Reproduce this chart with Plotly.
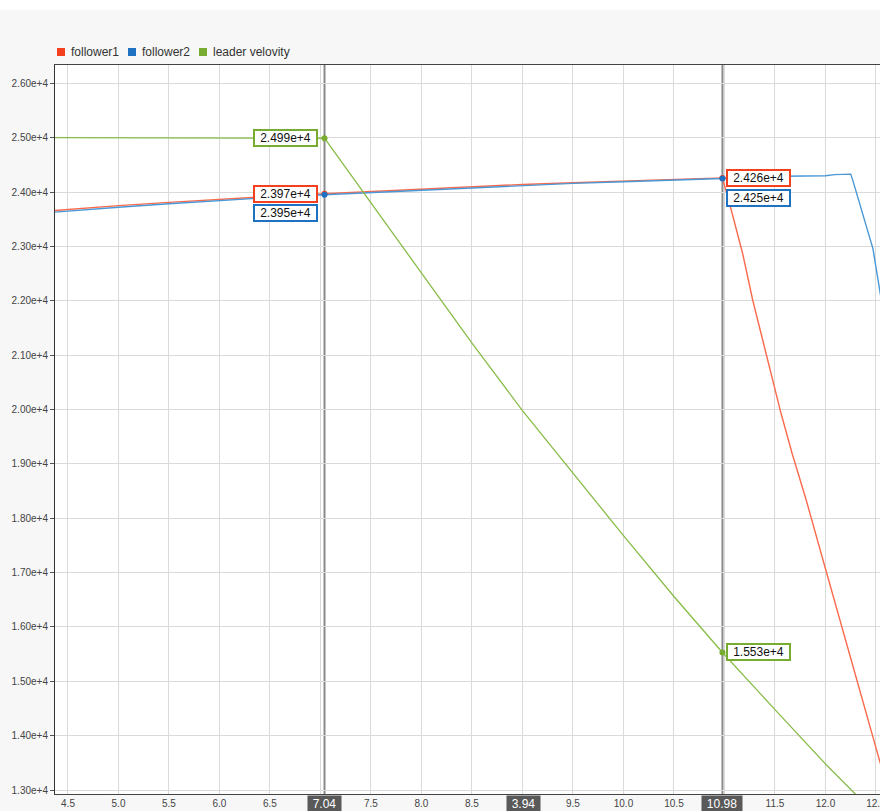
import plotly.graph_objects as go

# ---- signal data (time in s) ----
leader_t = [4.30, 7.036, 7.04, 7.5, 8.0, 8.5, 9.0, 9.5, 10.0, 10.5, 10.98, 11.5, 12.0, 12.55]
leader_v = [25000, 25000, 24990, 23800, 22520, 21220, 19980, 18820, 17680, 16560, 15530, 14480, 13480, 12450]

f1_t = [4.30, 4.5, 5.0, 5.5, 6.0, 6.5, 7.04, 7.5, 8.0, 8.5, 9.0, 9.5, 10.0, 10.5, 10.98,
        11.06, 11.18, 11.28, 11.36, 11.46, 11.56, 11.67, 11.81, 12.0, 12.25, 12.55]
f1_v = [23650, 23680, 23750, 23810, 23870, 23920, 23970, 24010, 24060, 24100, 24140, 24170, 24200, 24230, 24260,
        23720, 22870, 22010, 21400, 20670, 19930, 19190, 18330, 17070, 15420, 13450]

f2_t = [4.30, 4.5, 5.0, 5.5, 6.0, 6.5, 7.04, 7.5, 8.0, 8.5, 9.0, 9.5, 10.0, 10.5, 10.98,
        11.10, 11.70, 12.00, 12.09, 12.25, 12.27, 12.32, 12.40, 12.47, 12.55]
f2_v = [23620, 23650, 23720, 23785, 23845, 23900, 23950, 23990, 24040, 24085, 24125, 24160, 24190, 24220, 24250,
        24280, 24290, 24300, 24320, 24330, 24220, 23900, 23360, 22960, 22050]

# ---- cursor readouts ----
cursor_t = [7.04, 10.98]
cursor_f1 = [23970, 24260]
cursor_f2 = [23950, 24250]
cursor_leader = [24990, 15530]

series_names = ["follower1", "follower2", "leader velovity"]
y_ticks = [13000 + 1000 * i for i in range(14)]
x_ticks = [4.5 + 0.5 * i for i in range(17)]
# labels under the cursor tags (7.0, 9.0, 11.0) are covered by the tags
x_ticktext = ["" if round(v, 1) in (7.0, 9.0, 11.0) else f"{v:.1f}" for v in x_ticks]

RED, BLUE, GREEN = "#f5401f", "#1f72c2", "#77ac30"
RED_LINE, BLUE_LINE, GREEN_LINE = "#f96a4c", "#4a98d6", "#88bc48"
FONT = "Liberation Sans, Arial, sans-serif"

# plot area in pixels
L, T, W, H = 55, 65, 825, 729


def px_x(p):
    return (p - L) / W


def px_y(p):
    return (T + H - p) / H


def sci(v):
    m, e = f"{v:.3e}".split("e")
    return f"{m}e{int(e):+d}"


fig = go.Figure()
fig.add_trace(go.Scatter(x=f1_t, y=f1_v, mode="lines", line=dict(color=RED_LINE, width=1.4),
                         name=series_names[0], showlegend=False, hoverinfo="skip"))
fig.add_trace(go.Scatter(x=f2_t, y=f2_v, mode="lines", line=dict(color=BLUE_LINE, width=1.4),
                         name=series_names[1], showlegend=False, hoverinfo="skip"))
fig.add_trace(go.Scatter(x=leader_t, y=leader_v, mode="lines", line=dict(color=GREEN_LINE, width=1.3),
                         name=series_names[2], showlegend=False, hoverinfo="skip"))

# cursor points
fig.add_trace(go.Scatter(x=cursor_t, y=cursor_f1, mode="markers", marker=dict(color=RED, size=6),
                         showlegend=False, hoverinfo="skip"))
fig.add_trace(go.Scatter(x=cursor_t, y=cursor_f2, mode="markers", marker=dict(color=BLUE, size=6),
                         showlegend=False, hoverinfo="skip"))
fig.add_trace(go.Scatter(x=cursor_t, y=cursor_leader, mode="markers", marker=dict(color=GREEN, size=6),
                         showlegend=False, hoverinfo="skip"))

shapes = []
annotations = []

# cursor lines
for t in cursor_t:
    shapes.append(dict(type="line", xref="x", yref="paper", x0=t, x1=t, y0=0, y1=1,
                       line=dict(color="#8a8a8a", width=2), layer="between"))

# value boxes
box_font = dict(family=FONT, size=12, color="#111")
for i, t in enumerate(cursor_t):
    left = i == 0
    anchor = "right" if left else "left"
    xs = -7 if left else 4
    entries = [(cursor_leader[i], GREEN, 0), (cursor_f1[i], RED, 0),
               (cursor_f2[i], BLUE, -18 if left else -20)]
    for v, c, ys in entries:
        annotations.append(dict(x=t, y=v, xref="x", yref="y", text=sci(v), showarrow=False,
                                xanchor=anchor, yanchor="middle", xshift=xs, yshift=ys,
                                font=box_font, bgcolor="white", bordercolor=c, borderwidth=2,
                                borderpad=0, width=61, height=14))

# cursor time tags on the x axis
tag_font = dict(family=FONT, size=12, color="white")
tags = [(cursor_t[0], f"{cursor_t[0]:.2f}"),
        ((cursor_t[0] + cursor_t[1]) / 2, f"{cursor_t[1] - cursor_t[0]:.2f}"),
        (cursor_t[1], f"{cursor_t[1]:.2f}")]
for x, txt in tags:
    annotations.append(dict(x=x, y=0, xref="x", yref="paper", text=txt, showarrow=False,
                            xanchor="center", yanchor="top", yshift=-1, font=tag_font,
                            bgcolor="#595959", borderpad=1, width=len(txt) * 7 + 3, height=14))

# legend
legend_items = [(57, 69, RED), (128, 140, BLUE), (199, 211, GREEN)]
for (sx, tx, c), name in zip(legend_items, series_names):
    shapes.append(dict(type="rect", xref="paper", yref="paper", x0=px_x(sx), x1=px_x(sx + 8),
                       y0=px_y(56), y1=px_y(48), fillcolor=c, line=dict(width=0)))
    annotations.append(dict(x=px_x(tx), y=px_y(52), xref="paper", yref="paper", text=name,
                            showarrow=False, xanchor="left", yanchor="middle",
                            font=dict(family=FONT, size=12, color="#333")))

# white strip along the top edge
shapes.append(dict(type="rect", xref="paper", yref="paper", x0=px_x(0), x1=px_x(880),
                   y0=px_y(10), y1=px_y(0), fillcolor="white", line=dict(width=0), layer="below"))

fig.update_layout(
    template="none",
    width=880, height=811,
    margin=dict(l=L, r=880 - L - W, t=T, b=811 - T - H, pad=0),
    paper_bgcolor="#f7f7f7",
    plot_bgcolor="white",
    font=dict(family=FONT, size=10, color="#444"),
    shapes=shapes,
    annotations=annotations,
    showlegend=False,
    xaxis=dict(range=[4.3714, 12.54], tickmode="array", tickvals=x_ticks, ticktext=x_ticktext,
               ticklabeloverflow="allow",
               showgrid=True, gridcolor="#dadada", gridwidth=1, zeroline=False,
               showline=True, linecolor="#444", linewidth=1, mirror=True,
               ticks="", automargin=False, tickfont=dict(size=10, color="#444")),
    yaxis=dict(range=[12927, 26337], tickvals=y_ticks, tickformat=".2e",
               showgrid=True, gridcolor="#dadada", gridwidth=1, zeroline=False,
               showline=True, linecolor="#333", linewidth=1, mirror=True,
               ticks="outside", ticklen=4, tickcolor="#555", automargin=False,
               tickfont=dict(size=10, color="#444")),
)

fig.write_html("out.html")
